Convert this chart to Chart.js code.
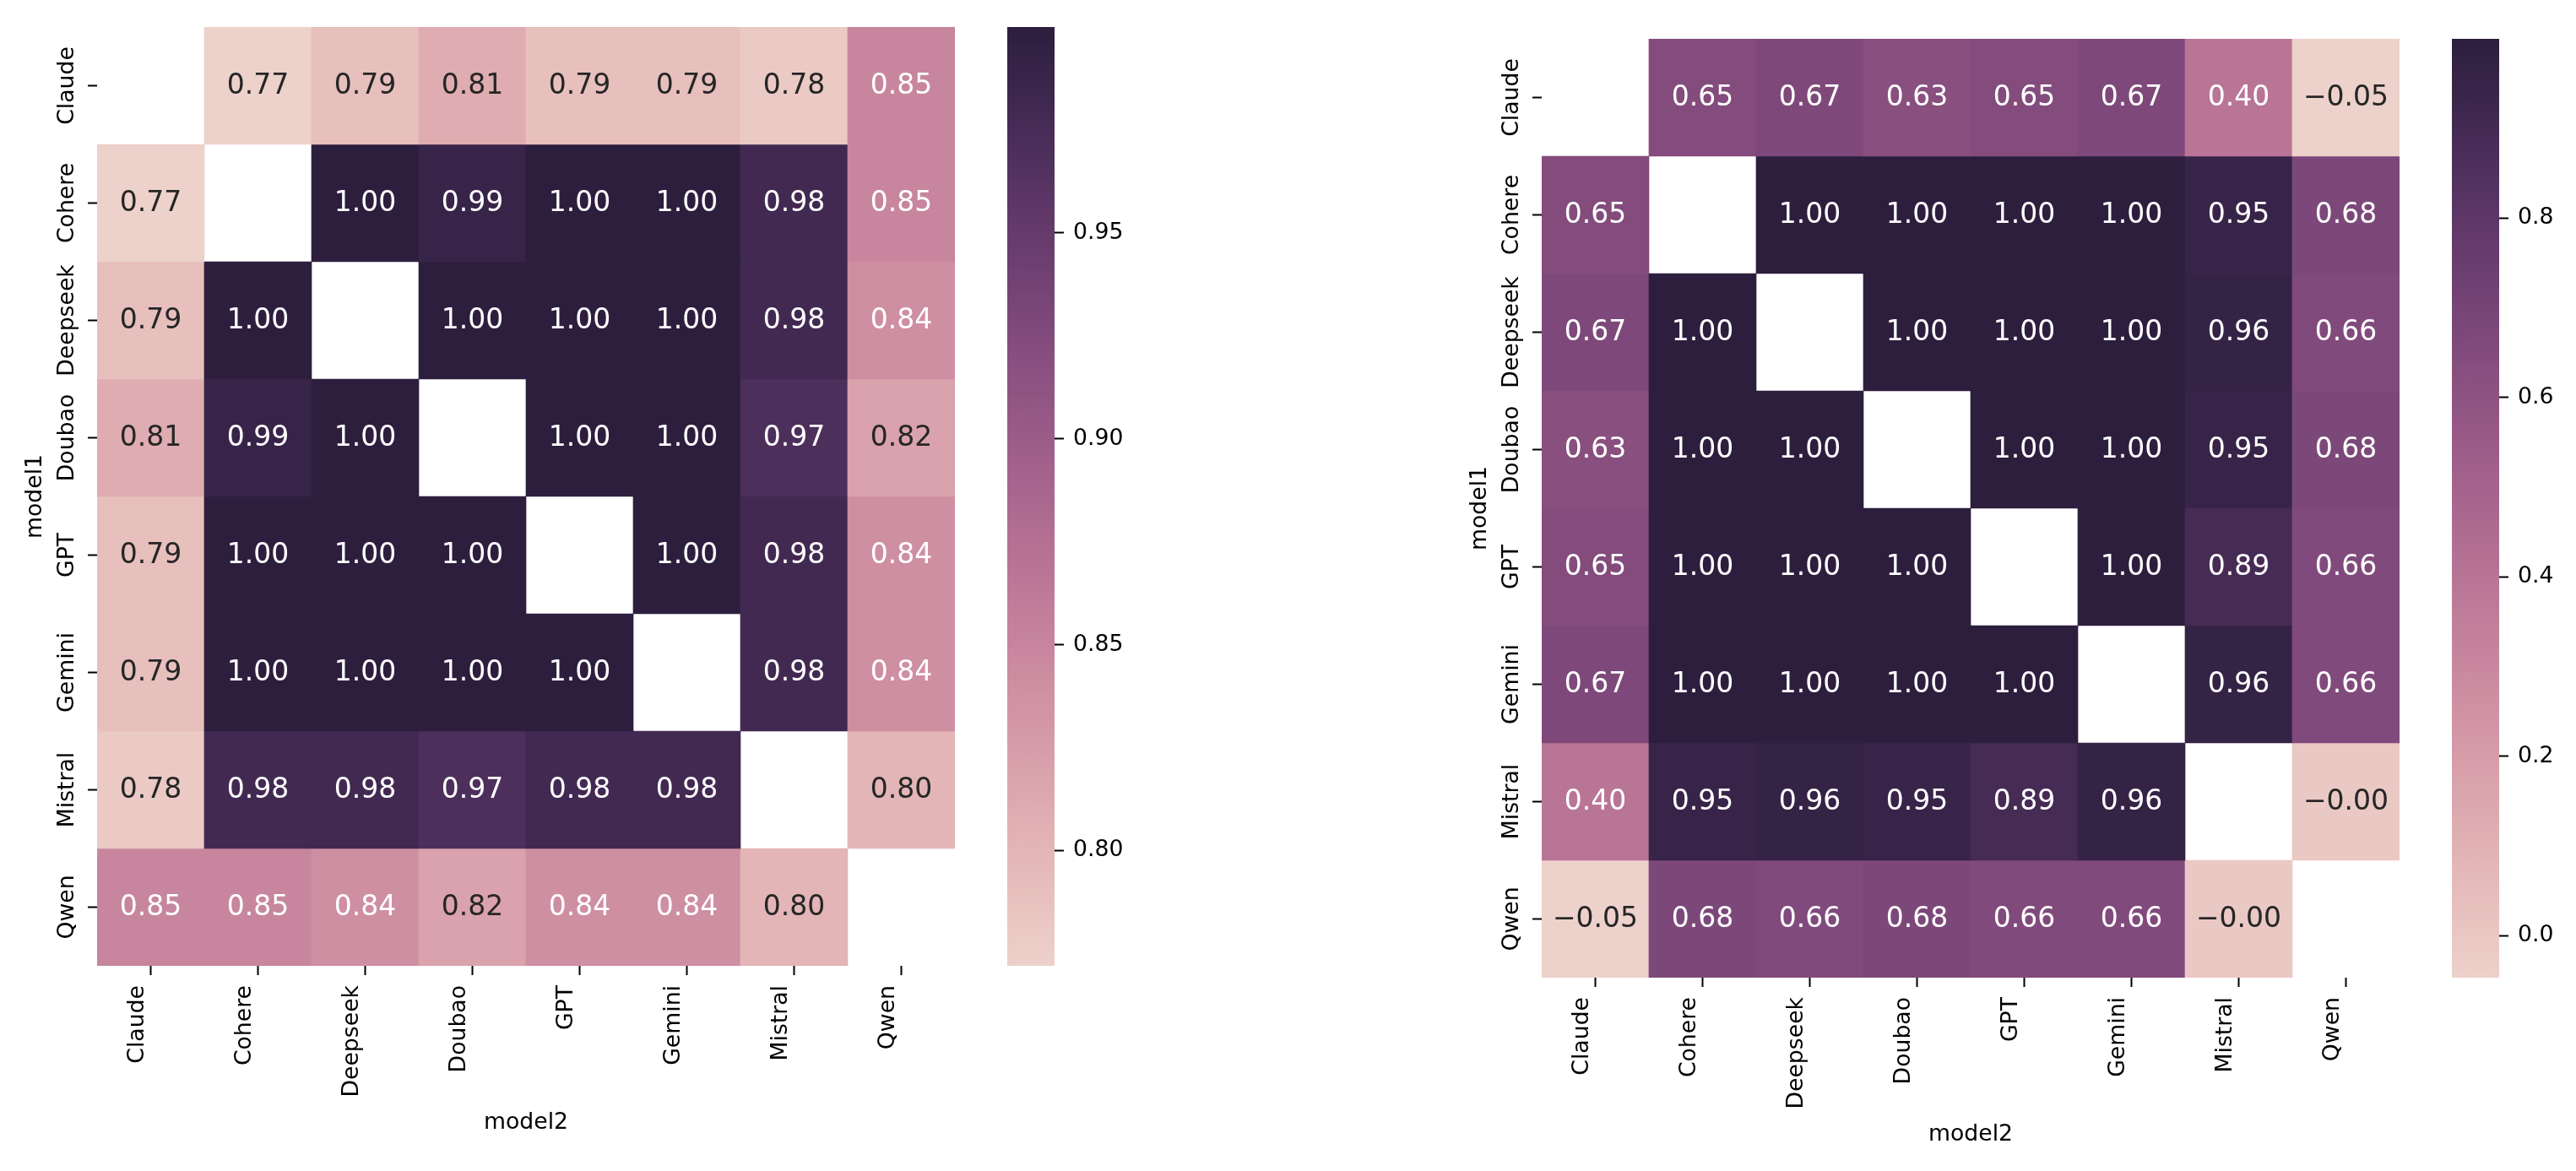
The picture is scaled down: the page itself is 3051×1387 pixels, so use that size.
<!DOCTYPE html>
<html>
<head>
<meta charset="utf-8">
<script src="https://cdn.jsdelivr.net/npm/chart.js@4.4.1/dist/chart.umd.min.js"></script>
<style>
  html, body { margin: 0; padding: 0; background: #fff; overflow: hidden; }
  body { width: 3051px; height: 1387px; position: relative; }
  .panel { position: absolute; width: 1400px; height: 1373px; }
  .panel canvas { position: absolute; top: 0; }
</style>
</head>
<body>
<div class="panel" style="left:0;top:0">
  <canvas id="heatLeft" width="1160" height="1373" style="left:0"></canvas>
  <canvas id="barLeft" width="200" height="1373" style="left:1180px"></canvas>
</div>
<div class="panel" style="left:1711px;top:14px">
  <canvas id="heatRight" width="1160" height="1373" style="left:0"></canvas>
  <canvas id="barRight" width="200" height="1373" style="left:1180px"></canvas>
</div>
<script>
// models on both axes (rows = model1, columns = model2)
const models = ['Claude', 'Cohere', 'Deepseek', 'Doubao', 'GPT', 'Gemini', 'Mistral', 'Qwen'];

// left heatmap, diagonal masked
const leftValues = [
  [null, 0.772, 0.79, 0.81, 0.79, 0.79, 0.78, 0.85],
  [0.772, null, 1.00, 0.99, 1.00, 1.00, 0.98, 0.85],
  [0.79, 1.00, null, 1.00, 1.00, 1.00, 0.98, 0.84],
  [0.81, 0.99, 1.00, null, 1.00, 1.00, 0.97, 0.82],
  [0.79, 1.00, 1.00, 1.00, null, 1.00, 0.98, 0.84],
  [0.79, 1.00, 1.00, 1.00, 1.00, null, 0.98, 0.84],
  [0.78, 0.98, 0.98, 0.97, 0.98, 0.98, null, 0.80],
  [0.85, 0.85, 0.84, 0.82, 0.84, 0.84, 0.80, null]
];
const leftRange = [0.772, 1.0];
const leftColorbarTicks = [0.80, 0.85, 0.90, 0.95];

// right heatmap, diagonal masked
const rightValues = [
  [null, 0.65, 0.67, 0.63, 0.65, 0.67, 0.40, -0.047],
  [0.65, null, 1.00, 1.00, 1.00, 1.00, 0.95, 0.68],
  [0.67, 1.00, null, 1.00, 1.00, 1.00, 0.96, 0.66],
  [0.63, 1.00, 1.00, null, 1.00, 1.00, 0.95, 0.68],
  [0.65, 1.00, 1.00, 1.00, null, 1.00, 0.89, 0.66],
  [0.67, 1.00, 1.00, 1.00, 1.00, null, 0.96, 0.66],
  [0.40, 0.95, 0.96, 0.95, 0.89, 0.96, null, -0.003],
  [-0.047, 0.68, 0.66, 0.68, 0.66, 0.66, -0.003, null]
];
const rightRange = [-0.047, 1.0];
const rightColorbarTicks = [0.0, 0.2, 0.4, 0.6, 0.8];

const xTitle = 'model2';
const yTitle = 'model1';

const FAMILY = "'DejaVu Sans'";
const TICK_SIZE = 26.7;
const ANNOT_SIZE = 33;
const tickFont = { family: FAMILY, size: TICK_SIZE };

// seaborn cubehelix_palette(as_cmap=True), light=.85 dark=.15 rot=.4
function cmapRGB(t) {
  const clamp = (v, a, b) => Math.min(b, Math.max(a, v));
  const k = clamp(Math.floor(t * 256), 0, 255);
  const xk = 0.85 + (0.15 - 0.85) * k / 255;
  const x = clamp(Math.floor(xk * 256), 0, 255) / 255;
  const a = 0.8 * x * (1 - x) / 2;
  const phi = 2 * Math.PI * (0.4 * x);
  const ch = (p0, p1) => clamp(x + a * (p0 * Math.cos(phi) + p1 * Math.sin(phi)), 0, 1);
  return [ch(-0.14861, 1.78277), ch(-0.29227, -0.90649), ch(1.97294, 0.0)];
}

function css(rgb) {
  return 'rgb(' + rgb.map(c => Math.round(c * 255)).join(',') + ')';
}

function cellRGB(v, range) {
  return cmapRGB((v - range[0]) / (range[1] - range[0]));
}

function luminance(rgb) {
  const f = c => c <= 0.03928 ? c / 12.92 : Math.pow((c + 0.055) / 1.055, 2.4);
  return 0.2126 * f(rgb[0]) + 0.7152 * f(rgb[1]) + 0.0722 * f(rgb[2]);
}

function fmt(v) {
  return v.toFixed(2).replace('-', '\u2212');
}

// value labels in the cells
function cellLabels(matrix, range) {
  return {
    id: 'cellLabels',
    afterDatasetsDraw(chart) {
      const ctx = chart.ctx;
      ctx.save();
      ctx.font = ANNOT_SIZE + 'px ' + FAMILY;
      ctx.textAlign = 'center';
      ctx.textBaseline = 'alphabetic';
      matrix.forEach((row, r) => {
        const meta = chart.getDatasetMeta(r);
        row.forEach((v, c) => {
          if (v === null) return;
          const p = meta.data[c].getCenterPoint();
          ctx.fillStyle = luminance(cellRGB(v, range)) > 0.408 ? '#262626' : '#ffffff';
          ctx.fillText(fmt(v), p.x, p.y + 9.2);
        });
      });
      ctx.restore();
    }
  };
}

const measure = document.createElement('canvas').getContext('2d');
measure.font = TICK_SIZE + 'px ' + FAMILY;
const widestLabel = Math.max(...models.map(m => measure.measureText(m).width));

function heatmap(id, matrix, range) {
  const datasets = matrix.map((row, r) => ({
    label: models[r],
    data: row.map(v => v === null ? null : [r, r + 1]),
    backgroundColor: row.map(v => v === null ? 'rgba(0,0,0,0)' : css(cellRGB(v, range))),
    grouped: false,
    barPercentage: 1,
    categoryPercentage: 1,
    borderWidth: 0
  }));

  return new Chart(document.getElementById(id), {
    type: 'bar',
    data: { labels: models, datasets },
    options: {
      responsive: false,
      devicePixelRatio: 1,
      animation: false,
      events: [],
      layout: { padding: { top: 32, right: 29, bottom: 0, left: 0 } },
      plugins: { legend: { display: false }, tooltip: { enabled: false } },
      scales: {
        x: {
          grid: { offset: false, drawOnChartArea: false, tickLength: 11, tickWidth: 2, tickColor: '#000' },
          border: { display: false },
          ticks: {
            autoSkip: false, minRotation: 90, maxRotation: 90,
            padding: 12, labelOffset: -15.5, color: '#000', font: tickFont
          },
          title: { display: true, text: xTitle, color: '#000', font: tickFont, padding: { top: 0, bottom: 27 } },
          afterFit: s => { s.height = 229; }
        },
        y: {
          type: 'linear', min: 0, max: 8, reverse: true,
          afterBuildTicks: s => { s.ticks = models.map((m, i) => ({ value: i + 0.5 })); },
          grid: { drawOnChartArea: false, tickLength: 11, tickWidth: 2, tickColor: '#000' },
          border: { display: false },
          ticks: {
            minRotation: 90, maxRotation: 90, crossAlign: 'center',
            padding: 24.2 - widestLabel / 2, color: '#000', font: tickFont,
            callback: v => models[Math.floor(v)]
          },
          title: { display: true, text: yTitle, color: '#000', font: tickFont, padding: { top: 26.5, bottom: 0 } },
          afterFit: s => { s.width = 115; }
        }
      }
    },
    plugins: [cellLabels(matrix, range)]
  });
}

function colorbar(id, range, ticks, decimals) {
  const gradient = chart => {
    const area = chart.chartArea;
    if (!area) return css(cmapRGB(0.5));
    const g = chart.ctx.createLinearGradient(0, area.bottom, 0, area.top);
    for (let i = 0; i <= 64; i++) g.addColorStop(i / 64, css(cmapRGB(i / 64)));
    return g;
  };

  return new Chart(document.getElementById(id), {
    type: 'bar',
    data: {
      labels: [''],
      datasets: [{
        data: [[range[0], range[1]]],
        backgroundColor: ctx => gradient(ctx.chart),
        barPercentage: 1,
        categoryPercentage: 1,
        borderWidth: 0
      }]
    },
    options: {
      responsive: false,
      devicePixelRatio: 1,
      animation: false,
      events: [],
      layout: { padding: { top: 32, right: 0, bottom: 229, left: 13 } },
      plugins: { legend: { display: false }, tooltip: { enabled: false } },
      scales: {
        x: { display: false },
        y: {
          position: 'right', min: range[0], max: range[1],
          afterBuildTicks: s => { s.ticks = ticks.map(v => ({ value: v })); },
          grid: { drawOnChartArea: false, tickLength: 11, tickWidth: 2, tickColor: '#000' },
          border: { display: false },
          ticks: { padding: 11, color: '#000', font: tickFont, callback: v => v.toFixed(decimals) },
          afterFit: s => { s.width = 131; }
        }
      }
    }
  });
}

heatmap('heatLeft', leftValues, leftRange);
colorbar('barLeft', leftRange, leftColorbarTicks, 2);
heatmap('heatRight', rightValues, rightRange);
colorbar('barRight', rightRange, rightColorbarTicks, 1);
</script>
</body>
</html>
